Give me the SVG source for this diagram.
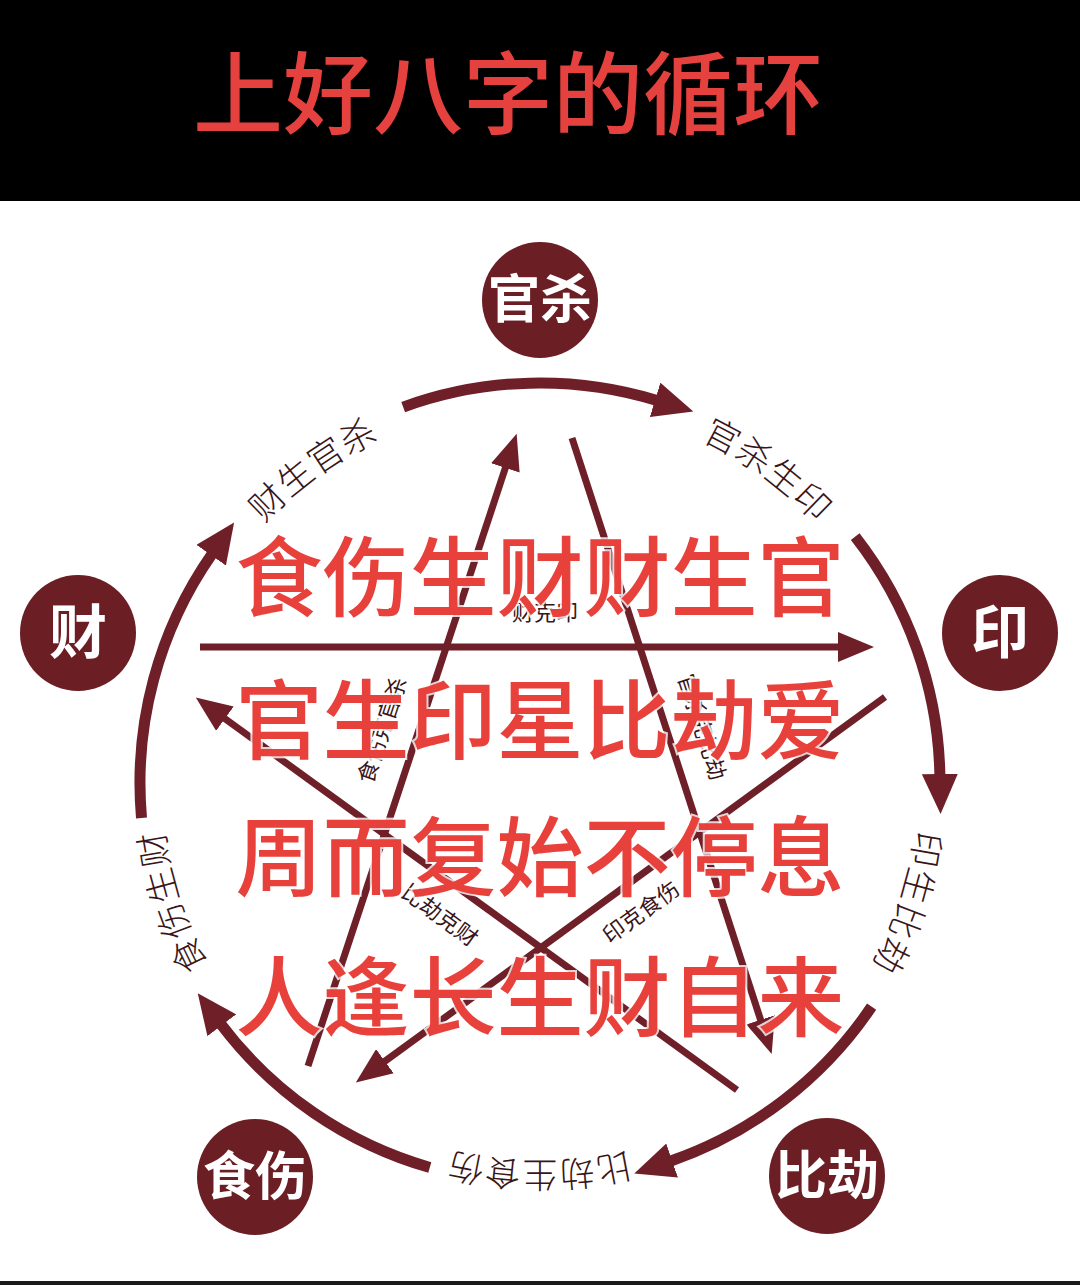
<svg xmlns="http://www.w3.org/2000/svg" xmlns:xlink="http://www.w3.org/1999/xlink" width="1080" height="1285" viewBox="0 0 1080 1285">
  <style>
    .node { fill: #6b1e23; }
    .ntext { fill: #ffffff; font-family: "Noto Sans CJK SC", "Noto Sans", sans-serif; font-weight: 700; text-anchor: middle; }
    .arc { fill: none; stroke: #6e1f28; stroke-width: 11; }
    .star { fill: none; stroke: #6e1f28; stroke-width: 7; }
    .alabel { fill: #3a1518; font-family: "Noto Sans CJK SC", "Noto Sans", sans-serif; font-weight: 300; font-size: 35px; letter-spacing: 1px; }
    .slabel { fill: #3a1518; font-family: "Noto Sans CJK SC", "Noto Sans", sans-serif; font-weight: 400; font-size: 22px; text-anchor: middle; }
    .big { fill: #e8413c; font-family: "Noto Sans CJK SC", "Noto Sans", sans-serif; font-weight: 500; font-size: 87px; text-anchor: middle; stroke: #ffffff; stroke-width: 4; paint-order: stroke; stroke-opacity: 0.8; }
    .title { fill: #e5413e; font-family: "Noto Sans CJK SC", "Noto Sans", sans-serif; font-weight: 500; font-size: 90px; }
  </style>
  <defs>
    <marker id="arcHead" markerUnits="userSpaceOnUse" viewBox="0 0 40 36" markerWidth="40" markerHeight="36" refX="2" refY="18" orient="auto">
      <path d="M0,0 L40,18 L0,36 Z" fill="#6e1f28"/>
    </marker>
    <marker id="lineHead" markerUnits="userSpaceOnUse" viewBox="0 0 36 30" markerWidth="36" markerHeight="30" refX="2" refY="15" orient="auto">
      <path d="M0,0 L36,15 L0,30 Z" fill="#6e1f28"/>
    </marker>
    <path id="ring" d="M540,404 A379,379 0 1 1 540,1162 A379,379 0 1 1 540,404"/>
  </defs>

  <rect x="0" y="0" width="1080" height="1285" fill="#ffffff"/>
  <rect x="0" y="0" width="1080" height="201" fill="#000000"/>
  <rect x="0" y="1281" width="1080" height="4" fill="#1a1a1a"/>
  <text class="title" x="193" y="127">上好八字的循环</text>

  <g id="connectors">
    <!-- cycle arcs (generating) -->
    <path class="arc" d="M403.2,407.1 A400,400 0 0 1 657.0,400.5" marker-end="url(#arcHead)"/>
    <path class="arc" d="M855.2,536.7 A400,400 0 0 1 939.9,776.0" marker-end="url(#arcHead)"/>
    <path class="arc" d="M871.6,1006.7 A400,400 0 0 1 670.2,1161.2" marker-end="url(#arcHead)"/>
    <path class="arc" d="M429.8,1167.5 A400,400 0 0 1 220.6,1023.7" marker-end="url(#arcHead)"/>
    <path class="arc" d="M141.5,817.9 A400,400 0 0 1 212.3,553.6" marker-end="url(#arcHead)"/>

    <!-- star lines (controlling) -->
    <line class="star" x1="200" y1="647" x2="840" y2="647" marker-end="url(#lineHead)"/>
    <line class="star" x1="308" y1="1066" x2="506" y2="466" marker-end="url(#lineHead)"/>
    <line class="star" x1="572" y1="438" x2="761.2" y2="1021.7" marker-end="url(#lineHead)"/>
    <line class="star" x1="885" y1="697" x2="383.3" y2="1062.4" marker-end="url(#lineHead)"/>
    <line class="star" x1="737" y1="1090" x2="223.3" y2="717.5" marker-end="url(#lineHead)"/>

    <!-- arc labels -->
    <text class="alabel" text-anchor="middle"><textPath href="#ring" xlink:href="#ring" startOffset="238.1">官杀生印</textPath></text>
    <text class="alabel" text-anchor="middle"><textPath href="#ring" xlink:href="#ring" startOffset="714.4">印生比劫</textPath></text>
    <text class="alabel" text-anchor="middle"><textPath href="#ring" xlink:href="#ring" startOffset="1190.7">比劫生食伤</textPath></text>
    <text class="alabel" text-anchor="middle"><textPath href="#ring" xlink:href="#ring" startOffset="1667.0">食伤生财</textPath></text>
    <text class="alabel" text-anchor="middle"><textPath href="#ring" xlink:href="#ring" startOffset="2143.3">财生官杀</textPath></text>

    <!-- star labels -->
    <text class="slabel" x="545" y="620">财克印</text>
    <text class="slabel" transform="translate(382,730) rotate(-71.7)" x="0" y="8">食伤克官杀</text>
    <text class="slabel" transform="translate(702,727) rotate(72)" x="0" y="8">官杀克比劫</text>
    <text class="slabel" transform="translate(440,915) rotate(36)" x="0" y="8">比劫克财</text>
    <text class="slabel" transform="translate(641,912) rotate(-36)" x="0" y="8">印克食伤</text>
  </g>

  <g id="node-guansha">
    <circle class="node" cx="540" cy="300" r="58"/>
    <text class="ntext" x="540" y="318" font-size="52">官杀</text>
  </g>
  <g id="node-yin">
    <circle class="node" cx="1000" cy="633" r="58"/>
    <text class="ntext" x="1000" y="653" font-size="58">印</text>
  </g>
  <g id="node-bijie">
    <circle class="node" cx="827" cy="1176" r="58"/>
    <text class="ntext" x="827" y="1194" font-size="52">比劫</text>
  </g>
  <g id="node-shishang">
    <circle class="node" cx="255" cy="1177" r="58"/>
    <text class="ntext" x="255" y="1195" font-size="52">食伤</text>
  </g>
  <g id="node-cai">
    <circle class="node" cx="78" cy="633" r="58"/>
    <text class="ntext" x="78" y="653" font-size="58">财</text>
  </g>

  <g id="poem">
    <text class="big" x="540" y="610">食伤生财财生官</text>
    <text class="big" x="540" y="753">官生印星比劫爱</text>
    <text class="big" x="540" y="890">周而复始不停息</text>
    <text class="big" x="540" y="1030">人逢长生财自来</text>
  </g>
</svg>
